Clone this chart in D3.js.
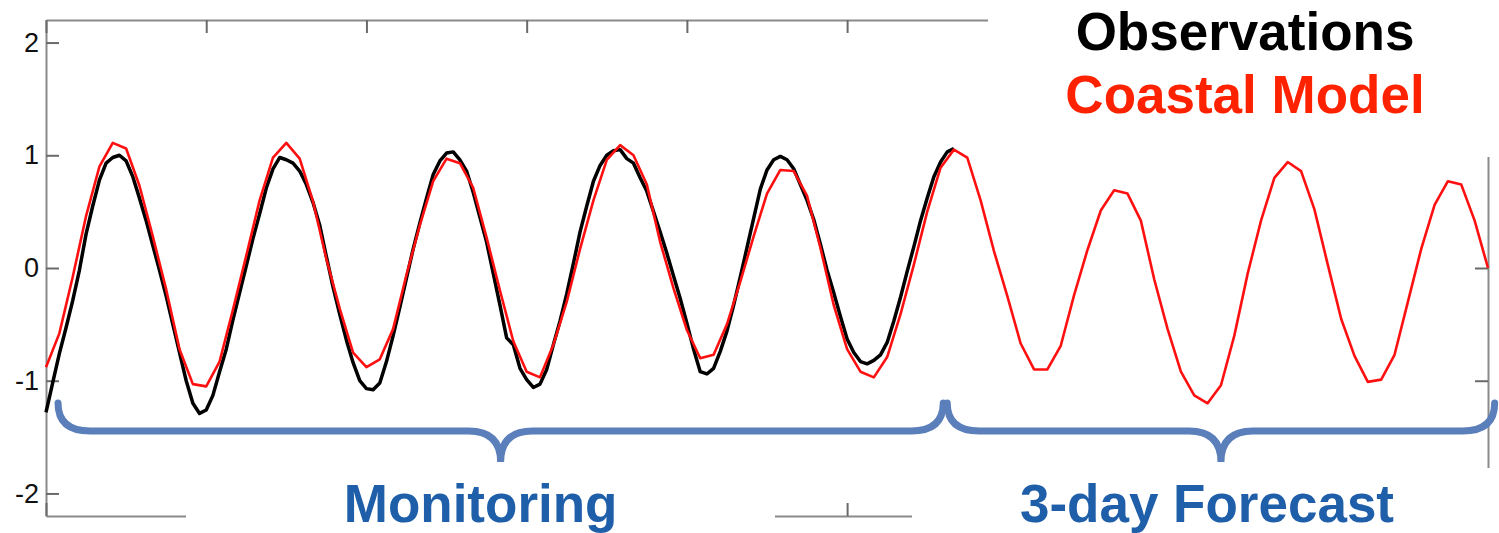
<!DOCTYPE html>
<html>
<head>
<meta charset="utf-8">
<script src="https://cdn.jsdelivr.net/npm/d3@7"></script>
<style>
  body { margin: 0; background: #fff; }
  svg { display: block; font-family: "Liberation Sans", Arial, Helvetica, sans-serif; }
</style>
</head>
<body>
<svg id="chart" width="1499" height="533"></svg>
<script>
// sea level (m), model output every hour, hours 0..108
const modelLevel = [
  -0.88, -0.58, -0.08, 0.46, 0.9, 1.11, 1.06, 0.73, 0.28, -0.19,
  -0.72, -1.03, -1.05, -0.83, -0.37, 0.11, 0.6, 0.98, 1.11, 0.97,
  0.59, 0.08, -0.36, -0.75, -0.88, -0.81, -0.54, -0.06, 0.38, 0.77,
  0.97, 0.93, 0.71, 0.27, -0.2, -0.65, -0.92, -0.97, -0.68, -0.3,
  0.17, 0.6, 0.96, 1.09, 1.0, 0.74, 0.23, -0.18, -0.55, -0.8,
  -0.77, -0.5, -0.12, 0.28, 0.66, 0.87, 0.86, 0.64, 0.18, -0.33,
  -0.72, -0.92, -0.97, -0.79, -0.41, 0.03, 0.5, 0.89, 1.05, 0.98,
  0.6, 0.15, -0.25, -0.67, -0.9, -0.9, -0.69, -0.24, 0.16, 0.51,
  0.69, 0.66, 0.42, -0.1, -0.54, -0.92, -1.13, -1.2, -1.04, -0.6,
  -0.05, 0.42, 0.8, 0.94, 0.86, 0.52, 0.03, -0.45, -0.78, -1.01,
  -0.99, -0.77, -0.3, 0.17, 0.56, 0.77, 0.74, 0.42, 0.0
]

// observed sea level (m), every half hour, hours 0..68
const obsLevel = [
  -1.28, -1.02, -0.76, -0.53, -0.29, -0.02, 0.3, 0.55, 0.78, 0.93,
  0.98, 1.0, 0.95, 0.81, 0.62, 0.42, 0.2, -0.02, -0.25, -0.5,
  -0.75, -1.0, -1.2, -1.29, -1.26, -1.13, -0.92, -0.72, -0.46, -0.22,
  0.02, 0.26, 0.48, 0.71, 0.88, 0.98, 0.96, 0.93, 0.86, 0.74,
  0.58, 0.38, 0.1, -0.17, -0.41, -0.64, -0.84, -1.0, -1.07, -1.08,
  -1.02, -0.83, -0.6, -0.35, -0.09, 0.17, 0.4, 0.62, 0.83, 0.95,
  1.02, 1.03, 0.96, 0.86, 0.67, 0.45, 0.23, -0.05, -0.33, -0.62,
  -0.68, -0.89, -0.99, -1.06, -1.03, -0.9, -0.68, -0.47, -0.23, 0.04,
  0.32, 0.55, 0.77, 0.91, 1.0, 1.04, 1.05, 0.97, 0.93, 0.8,
  0.68, 0.5, 0.32, 0.13, -0.07, -0.27, -0.49, -0.72, -0.92, -0.94,
  -0.89, -0.74, -0.56, -0.33, -0.08, 0.18, 0.44, 0.7, 0.87, 0.96,
  0.99, 0.96, 0.88, 0.74, 0.6, 0.43, 0.21, -0.02, -0.22, -0.43,
  -0.63, -0.75, -0.83, -0.85, -0.82, -0.77, -0.66, -0.47, -0.26, -0.03,
  0.19, 0.42, 0.62, 0.81, 0.94, 1.03, 1.06
]
const obsStep = 0.5

const yTicks = [-2, -1, 0, 1, 2]
const xTicks = [0, 12, 24, 36, 48, 60, 72, 84, 96, 108]

const legendNames = ['Observations', 'Coastal Model']
const legendColors = ['#000000', '#ff2200']

const periodNames = ['Monitoring', '3-day Forecast']
const periodStart = [0.9, 67.5]
const periodEnd = [67.2, 108.5]

const svg = d3.select('#chart')

const x = d3.scaleLinear().domain([0, 108]).range([46, 1488])
const y = d3.scaleLinear().domain([-2.2, 2.2]).range([516, 20])

function styleAxis (g) {
  g.select('.domain').attr('stroke', '#8a8a8a').attr('stroke-width', 2)
  g.selectAll('.tick line').attr('stroke', '#6a6a6a').attr('stroke-width', 2)
  g.selectAll('.tick text')
    .attr('fill', '#111')
    .attr('font-size', 27)
    .attr('font-family', '"Liberation Sans", Arial, sans-serif')
}

// frame with inward ticks
svg.append('g')
  .attr('transform', 'translate(46,0)')
  .call(d3.axisLeft(y).tickValues(yTicks).tickSizeInner(-13).tickSizeOuter(0)
    .tickPadding(7).tickFormat(d => String(d)))
  .call(styleAxis)

svg.append('g')
  .attr('transform', 'translate(0,20)')
  .call(d3.axisTop(x).tickValues(xTicks).tickSizeInner(-13).tickSizeOuter(0).tickFormat(''))
  .call(styleAxis)

svg.append('g')
  .attr('transform', 'translate(0,516)')
  .call(d3.axisBottom(x).tickValues(xTicks).tickSizeInner(-13).tickSizeOuter(0).tickFormat(''))
  .call(styleAxis)

svg.append('g')
  .attr('transform', 'translate(1488,0)')
  .call(d3.axisRight(y).tickValues(yTicks).tickSizeInner(-13).tickSizeOuter(0).tickFormat(''))
  .call(styleAxis)

// series
const obsLine = d3.line()
  .x((d, i) => x(i * obsStep))
  .y(d => y(d))

const modelLine = d3.line()
  .x((d, i) => x(i))
  .y(d => y(d))

svg.append('path')
  .datum(obsLevel)
  .attr('d', obsLine)
  .attr('fill', 'none')
  .attr('stroke', '#000')
  .attr('stroke-width', 3.5)
  .attr('stroke-linejoin', 'round')

svg.append('path')
  .datum(modelLevel)
  .attr('d', modelLine)
  .attr('fill', 'none')
  .attr('stroke', '#ff1010')
  .attr('stroke-width', 2.6)
  .attr('stroke-linejoin', 'round')

// white boxes behind the slide texts
svg.append('rect').attr('x', 988).attr('y', 0).attr('width', 511).attr('height', 157).attr('fill', '#fff')
svg.append('rect').attr('x', 186).attr('y', 470).attr('width', 589).attr('height', 63).attr('fill', '#fff')
svg.append('rect').attr('x', 912).attr('y', 468).attr('width', 587).attr('height', 65).attr('fill', '#fff')

// legend
svg.selectAll('.legend')
  .data(legendNames)
  .enter().append('text')
  .attr('class', 'legend')
  .attr('x', 1245)
  .attr('y', (d, i) => 50 + i * 63)
  .attr('text-anchor', 'middle')
  .attr('font-size', 53)
  .attr('font-weight', 'bold')
  .attr('fill', (d, i) => legendColors[i])
  .text(d => d)

// braces
const braceY = 431
const braceH = 28
const braceR = 32
const tipY = 462

function bracePath (i) {
  const x0 = x(periodStart[i])
  const x1 = x(periodEnd[i])
  const xm = (x0 + x1) / 2
  return `M${x0},${braceY - braceH} Q${x0},${braceY} ${x0 + braceR},${braceY}` +
    ` L${xm - braceR},${braceY} Q${xm},${braceY} ${xm},${tipY}` +
    ` Q${xm},${braceY} ${xm + braceR},${braceY}` +
    ` L${x1 - braceR},${braceY} Q${x1},${braceY} ${x1},${braceY - braceH}`
}

svg.selectAll('.brace')
  .data(periodNames)
  .enter().append('path')
  .attr('class', 'brace')
  .attr('d', (d, i) => bracePath(i))
  .attr('fill', 'none')
  .attr('stroke', '#5b7fbb')
  .attr('stroke-width', 7)
  .attr('stroke-linecap', 'round')

svg.selectAll('.period')
  .data(periodNames)
  .enter().append('text')
  .attr('class', 'period')
  .attr('x', (d, i) => (x(periodStart[i]) + x(periodEnd[i])) / 2 - (i === 0 ? 20 : 14))
  .attr('y', 522)
  .attr('text-anchor', 'middle')
  .attr('font-size', 53)
  .attr('font-weight', 'bold')
  .attr('fill', '#1f5ea8')
  .text(d => d)
</script>
</body>
</html>
